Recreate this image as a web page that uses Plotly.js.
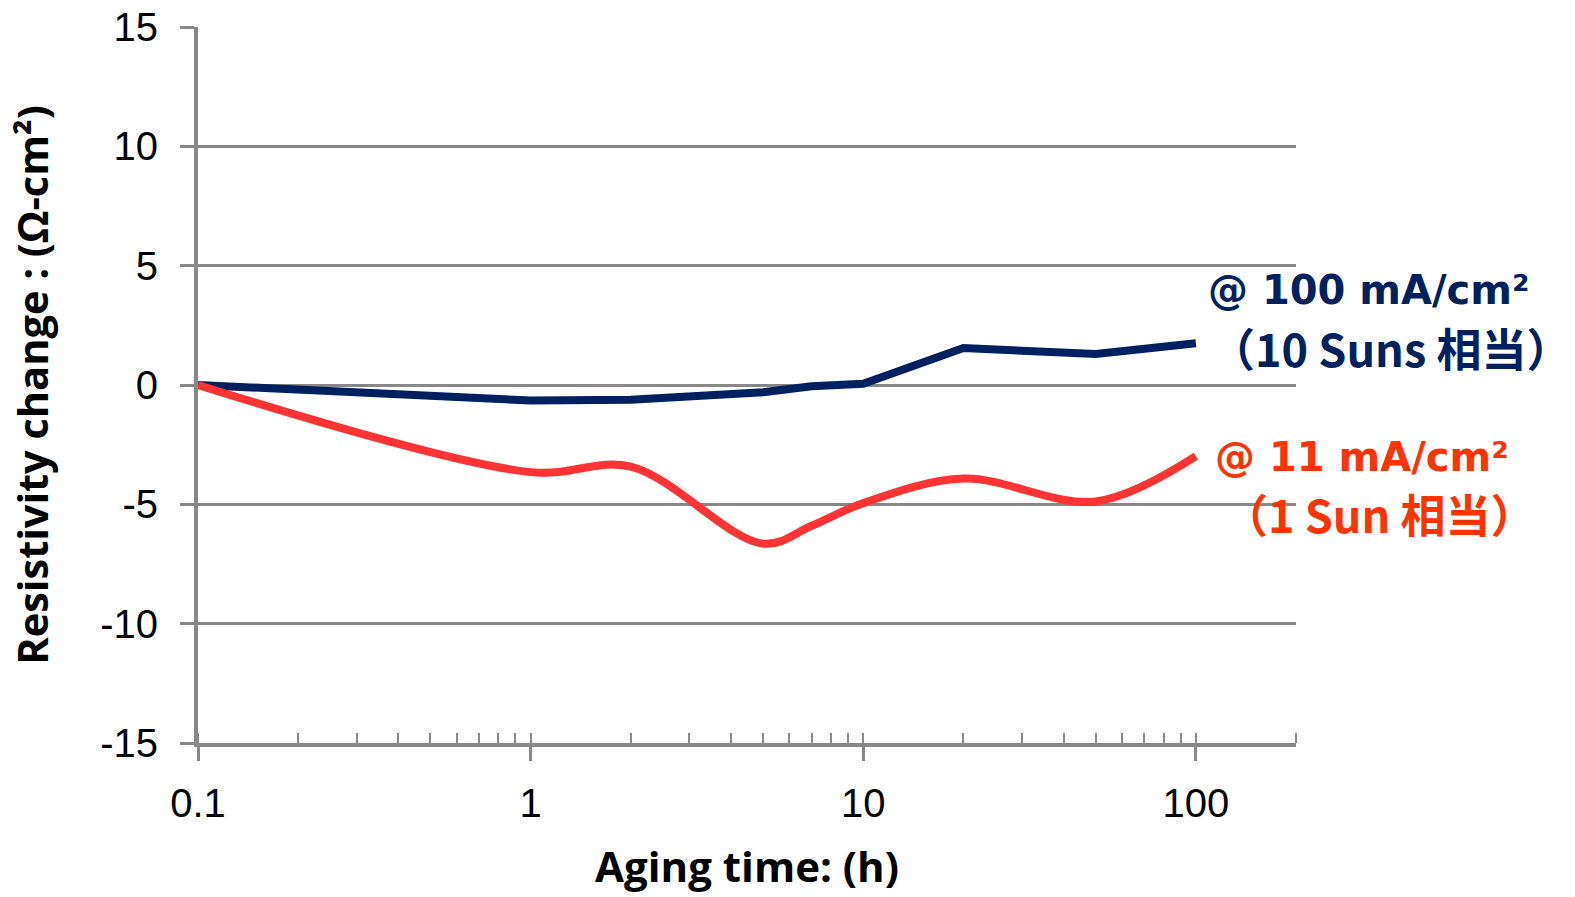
<!DOCTYPE html>
<html>
<head>
<meta charset="utf-8">
<script src="https://cdn.plot.ly/plotly-3.0.1.min.js"></script>
<style>html,body{margin:0;padding:0;background:#fff;}#chart{width:1575px;height:897px;}</style>
</head>
<body>
<div id="chart"></div>
<script>
// Data
const hours = [0.1, 1, 2, 5, 7, 10, 20, 50, 100];
const high100 = [0, -0.65, -0.62, -0.3, -0.05, 0.05, 1.55, 1.3, 1.75];   // @100 mA/cm2 (10 Suns)
const low11 = [0, -3.65, -3.42, -6.65, -5.9, -4.95, -3.92, -4.88, -2.98]; // @11 mA/cm2 (1 Sun)
const yTicks = [-15, -10, -5, 0, 5, 10, 15];
const yTickText = ['-15', '-10', '-5', '0', '5', '10', '15'];
const xTicks = [0.1, 1, 10, 100];
const xTickText = ['0.1', '1', '10', '100'];

const L = 198, R = 1296, T = 27, B = 743;
const px = (x) => (x - L) / (R - L);
const py = (y) => (B - y) / (B - T);

const blue = '#002060';
const red = '#FF3333';
const redText = '#FF3300';
const tFont = 'Open Sans, Noto Sans CJK JP, sans-serif';
const aFont = 'DejaVu Sans, Noto Sans CJK JP, sans-serif';
const jFont = 'Noto Sans CJK JP, sans-serif';
const tickFont = {family: 'Liberation Sans, Arial, sans-serif', size: 40, color: '#000'};

const traces = [
  {x: hours, y: high100, mode: 'lines', line: {color: blue, width: 8, shape: 'linear'}, hoverinfo: 'x+y', showlegend: false},
  {x: hours, y: low11, mode: 'lines', line: {color: red, width: 8, shape: 'spline', smoothing: 1}, hoverinfo: 'x+y', showlegend: false}
];

const layout = {
  width: 1575, height: 897,
  margin: {l: L, r: 1575 - R, t: T, b: 897 - B, pad: 0},
  paper_bgcolor: '#fff', plot_bgcolor: '#fff',
  showlegend: false,
  xaxis: {
    type: 'log', range: [-1, Math.log10(200)],
    tickvals: xTicks, ticktext: xTickText,
    ticks: 'outside', ticklen: 14, tickwidth: 3, tickcolor: '#888',
    minor: {ticks: 'inside', ticklen: 10, tickwidth: 2, tickcolor: '#888', dtick: 'D1', showgrid: false},
    showgrid: false, zeroline: false,
    showline: true, linecolor: '#888', linewidth: 4,
    tickfont: tickFont,
    ticklabelstandoff: 8,
    title: {text: 'Aging time: (h)', font: {family: tFont, size: 42, color: '#000', weight: 'bold'}, standoff: 30}
  },
  yaxis: {
    range: [-15, 15],
    tickvals: yTicks, ticktext: yTickText,
    ticks: 'outside', ticklen: 14, tickwidth: 3, tickcolor: '#888',
    showgrid: true, gridcolor: '#888', gridwidth: 3,
    zeroline: false,
    showline: true, linecolor: '#888', linewidth: 4,
    tickfont: tickFont,
    ticklabelstandoff: 14,
    title: {text: 'Resistivity change : (Ω-cm²)', font: {family: tFont, size: 41.5, color: '#000', weight: 'bold'}, standoff: 40}
  },
  annotations: [
    {xref: 'paper', yref: 'paper', x: px(1206), y: py(290), xanchor: 'left', yanchor: 'middle', showarrow: false,
     text: '@ 100 mA/cm²', font: {family: aFont, size: 40, color: blue, weight: 'bold'}},
    {xref: 'paper', yref: 'paper', x: px(1208), y: py(347), xanchor: 'left', yanchor: 'middle', showarrow: false,
     text: '（10 Suns 相当）', font: {family: jFont, size: 45, color: blue, weight: 'bold'}},
    {xref: 'paper', yref: 'paper', x: px(1213), y: py(457), xanchor: 'left', yanchor: 'middle', showarrow: false,
     text: '@ 11 mA/cm²', font: {family: aFont, size: 40, color: redText, weight: 'bold'}},
    {xref: 'paper', yref: 'paper', x: px(1221), y: py(513), xanchor: 'left', yanchor: 'middle', showarrow: false,
     text: '（1 Sun 相当）', font: {family: jFont, size: 45, color: redText, weight: 'bold'}}
  ]
};

Plotly.newPlot('chart', traces, layout, {displayModeBar: false, staticPlot: true});
</script>
</body>
</html>
